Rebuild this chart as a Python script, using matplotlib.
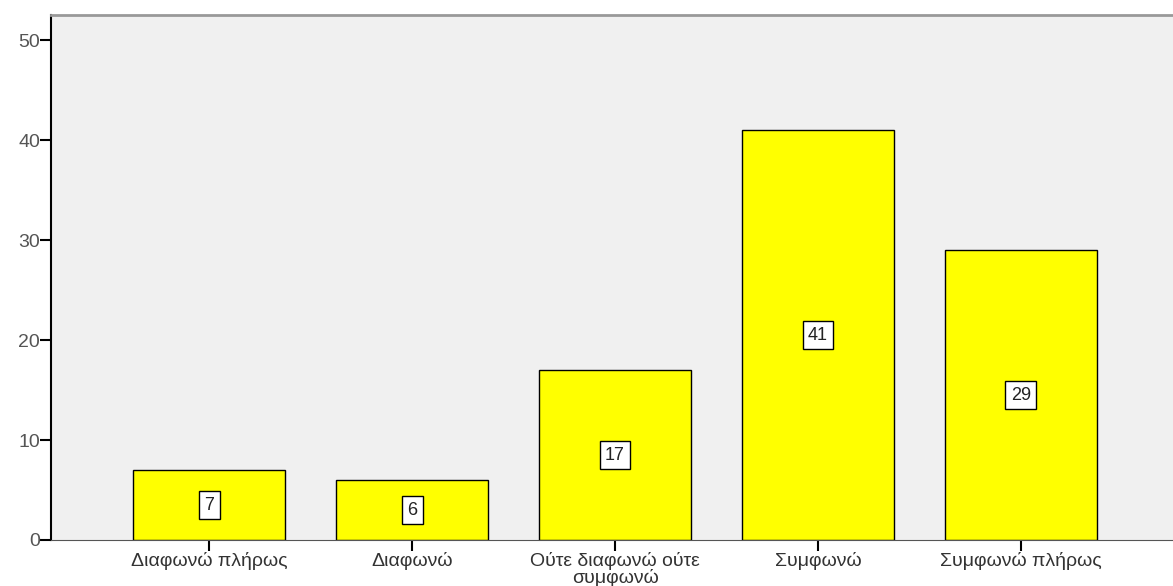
import matplotlib.pyplot as plt

categories = ["Διαφωνώ πλήρως", "Διαφωνώ", "Ούτε διαφωνώ ούτε\nσυμφωνώ", "Συμφωνώ", "Συμφωνώ πλήρως"]
counts = [7, 6, 17, 41, 29]
yticks = [0, 10, 20, 30, 40, 50]

plt.rcParams['font.family'] = ['Liberation Sans', 'DejaVu Sans']

fig = plt.figure(figsize=(11.73, 5.86), dpi=100)
ax = fig.add_axes([0.0435, 0.0785, 0.9565, 0.8955])
ax.set_facecolor("#f0f0f0")

x = list(range(len(categories)))
ax.bar(x, counts, width=0.75, color="#ffff00", edgecolor="black", linewidth=1, zorder=2)

for xi, c in zip(x, counts):
    ax.text(xi, c / 2, str(c), ha="center", va="center", fontsize=13, color="#222222",
            bbox=dict(boxstyle="square,pad=0.3", facecolor="white", edgecolor="black", linewidth=1),
            zorder=3)

ax.set_xlim(-0.78, 4.75)
ax.set_ylim(0, 52.5)
ax.set_xticks(x)
ax.set_xticklabels(categories, fontsize=14, color="#333333", linespacing=0.88)
ax.set_yticks(yticks)
ax.set_yticklabels([str(t) for t in yticks], fontsize=14, color="#555555")
ax.tick_params(axis="x", length=8, width=1.5, color="black", pad=1)
ax.tick_params(axis="y", length=8, width=1.5, color="black", pad=0)

ax.spines["right"].set_visible(False)
ax.spines["top"].set_color("#999999")
ax.spines["top"].set_linewidth(2)
ax.spines["left"].set_linewidth(1.5)
ax.spines["bottom"].set_color("#555555")

fig.savefig("out.png", dpi=100)
